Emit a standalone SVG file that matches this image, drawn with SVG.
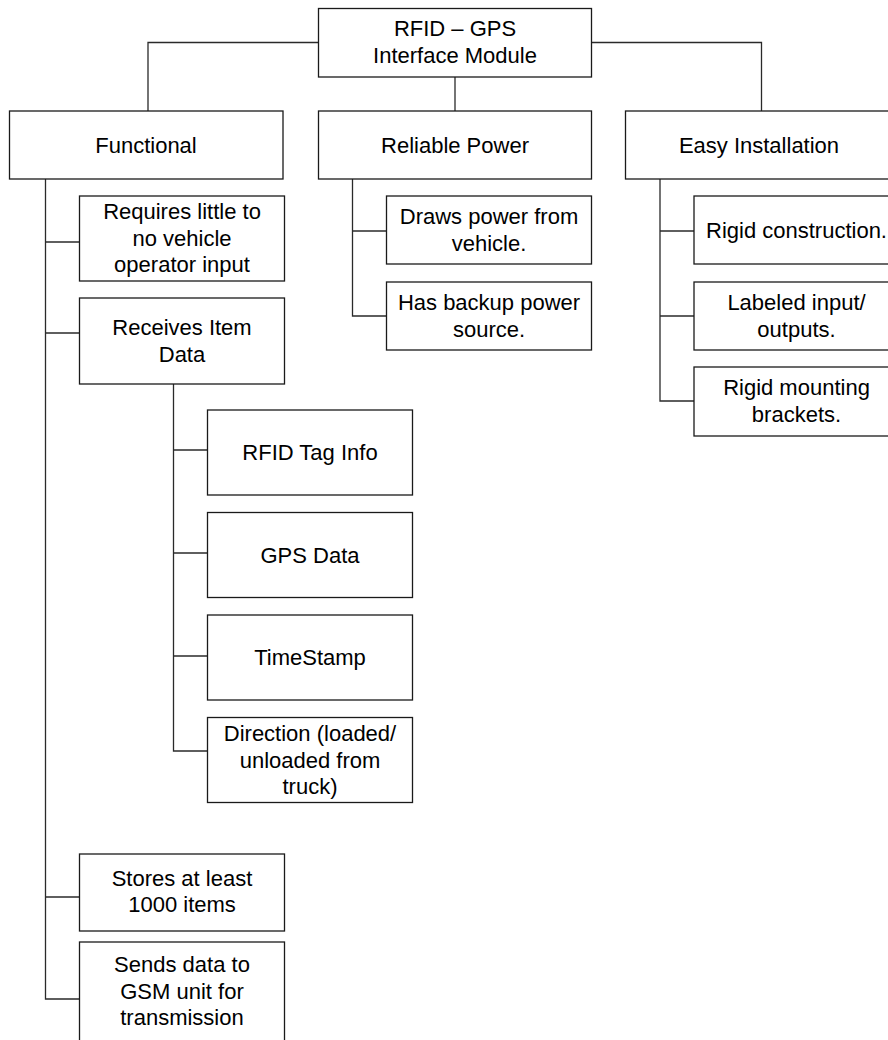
<svg xmlns="http://www.w3.org/2000/svg" width="888" height="1040" viewBox="0 0 888 1040">
  <style>
    .box { fill: #ffffff; stroke: #1a1a1a; stroke-width: 1.3; }
    .lbl { font-family: "Liberation Sans", Arial, sans-serif; font-size: 22px; fill: #000000; text-anchor: middle; }
    .wire { fill: none; stroke: #2a2a2a; stroke-width: 1.3; }
  </style>
  <rect x="0" y="0" width="888" height="1040" fill="#ffffff"/>

  <!-- tree connectors -->
  <g id="connectors">
    <path class="wire" d="M148,111 V42.5 H318.5"/>
    <path class="wire" d="M591.5,42.5 H761.5 V111"/>
    <path class="wire" d="M455,77 V111"/>
    <!-- Functional branch -->
    <path class="wire" d="M45.5,179 V999 H79.5"/>
    <path class="wire" d="M45.5,242 H79.5"/>
    <path class="wire" d="M45.5,333 H79.5"/>
    <path class="wire" d="M45.5,897 H79.5"/>
    <!-- Receives Item Data branch -->
    <path class="wire" d="M173.5,384 V751 H207.5"/>
    <path class="wire" d="M173.5,450 H207.5"/>
    <path class="wire" d="M173.5,553 H207.5"/>
    <path class="wire" d="M173.5,656 H207.5"/>
    <!-- Reliable Power branch -->
    <path class="wire" d="M352.5,179 V316 H386.5"/>
    <path class="wire" d="M352.5,231 H386.5"/>
    <!-- Easy Installation branch -->
    <path class="wire" d="M660,179 V401 H694"/>
    <path class="wire" d="M660,231 H694"/>
    <path class="wire" d="M660,316 H694"/>
  </g>

  <g id="root">
    <rect class="box" x="318.5" y="8.5" width="273" height="68.5"/>
    <text class="lbl" x="455" y="36">RFID – GPS</text>
    <text class="lbl" x="455" y="63">Interface Module</text>
  </g>

  <g id="functional">
    <rect class="box" x="9.5" y="111" width="273.5" height="68"/>
    <text class="lbl" x="146" y="152.5">Functional</text>
  </g>
  <g id="reliable-power">
    <rect class="box" x="318.5" y="111" width="273" height="68"/>
    <text class="lbl" x="455" y="152.5">Reliable Power</text>
  </g>
  <g id="easy-installation">
    <rect class="box" x="625.5" y="111" width="280" height="68"/>
    <text class="lbl" x="759" y="152.5">Easy Installation</text>
  </g>

  <g id="operator-input">
    <rect class="box" x="79.5" y="196" width="205" height="85"/>
    <text class="lbl" x="182" y="219">Requires little to</text>
    <text class="lbl" x="182" y="245.7">no vehicle</text>
    <text class="lbl" x="182" y="272.4">operator input</text>
  </g>
  <g id="receives-item-data">
    <rect class="box" x="79.5" y="298" width="205" height="86"/>
    <text class="lbl" x="182" y="335.2">Receives Item</text>
    <text class="lbl" x="182" y="361.8">Data</text>
  </g>
  <g id="rfid-tag-info">
    <rect class="box" x="207.5" y="410" width="205" height="85"/>
    <text class="lbl" x="310" y="460">RFID Tag Info</text>
  </g>
  <g id="gps-data">
    <rect class="box" x="207.5" y="512.5" width="205" height="85"/>
    <text class="lbl" x="310" y="562.5">GPS Data</text>
  </g>
  <g id="timestamp">
    <rect class="box" x="207.5" y="615" width="205" height="85"/>
    <text class="lbl" x="310" y="665">TimeStamp</text>
  </g>
  <g id="direction">
    <rect class="box" x="207.5" y="717.5" width="205" height="85"/>
    <text class="lbl" x="310" y="740.8">Direction (loaded/</text>
    <text class="lbl" x="310" y="767.5">unloaded from</text>
    <text class="lbl" x="310" y="794.2">truck)</text>
  </g>
  <g id="stores-items">
    <rect class="box" x="79.5" y="854" width="205" height="77"/>
    <text class="lbl" x="182" y="885.5">Stores at least</text>
    <text class="lbl" x="182" y="912">1000 items</text>
  </g>
  <g id="sends-gsm">
    <rect class="box" x="79.5" y="942" width="205" height="110"/>
    <text class="lbl" x="182" y="972">Sends data to</text>
    <text class="lbl" x="182" y="998.5">GSM unit for</text>
    <text class="lbl" x="182" y="1025">transmission</text>
  </g>

  <g id="vehicle-power">
    <rect class="box" x="386.5" y="196" width="205" height="68"/>
    <text class="lbl" x="489" y="224">Draws power from</text>
    <text class="lbl" x="489" y="250.5">vehicle.</text>
  </g>
  <g id="backup-power">
    <rect class="box" x="386.5" y="282" width="205" height="68"/>
    <text class="lbl" x="489" y="310">Has backup power</text>
    <text class="lbl" x="489" y="336.5">source.</text>
  </g>

  <g id="rigid-construction">
    <rect class="box" x="694" y="196" width="205" height="68"/>
    <text class="lbl" x="796.5" y="237.5">Rigid construction.</text>
  </g>
  <g id="labeled-io">
    <rect class="box" x="694" y="282" width="205" height="68"/>
    <text class="lbl" x="796.5" y="310">Labeled input/</text>
    <text class="lbl" x="796.5" y="336.5">outputs.</text>
  </g>
  <g id="mounting-brackets">
    <rect class="box" x="694" y="367" width="205" height="69"/>
    <text class="lbl" x="796.5" y="395">Rigid mounting</text>
    <text class="lbl" x="796.5" y="421.5">brackets.</text>
  </g>
</svg>
